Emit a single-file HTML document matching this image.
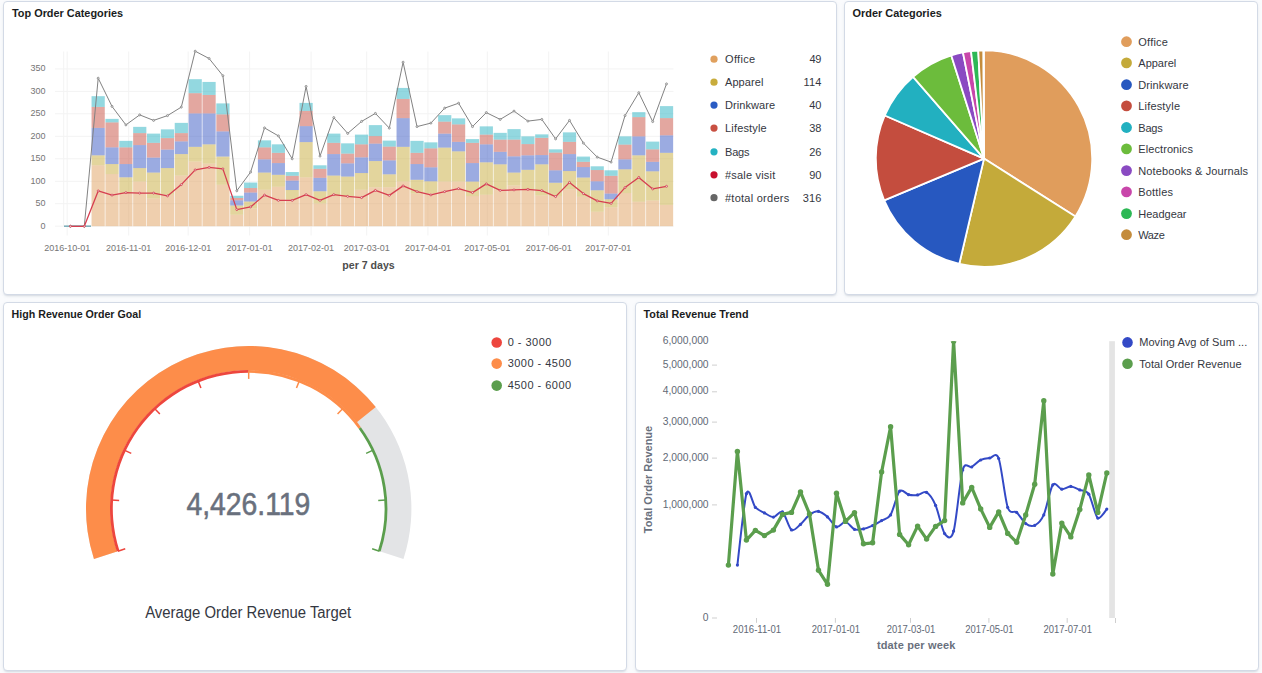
<!DOCTYPE html>
<html><head><meta charset="utf-8"><title>Dashboard</title>
<style>
html,body{margin:0;padding:0;}
body{width:1262px;height:673px;overflow:hidden;background:#FAFBFD;font-family:"Liberation Sans",sans-serif;position:relative;}
.p{position:absolute;box-sizing:border-box;background:#fff;border:1px solid #D3DAE6;border-radius:4px;box-shadow:0 2px 2px -1px rgba(152,162,179,.3),0 1px 5px -2px rgba(152,162,179,.3);}
svg{position:absolute;left:0;top:0;font-family:"Liberation Sans",sans-serif;}
</style></head><body>
<div class="p" style="left:3px;top:1px;width:834px;height:294px"></div>
<div class="p" style="left:844px;top:1px;width:414px;height:294px"></div>
<div class="p" style="left:3px;top:302px;width:624px;height:369px"></div>
<div class="p" style="left:635px;top:302px;width:624px;height:369px"></div>
<svg width="1262" height="673" viewBox="0 0 1262 673">
<line x1="55" x2="673.5" y1="226.2" y2="226.2" stroke="#f3f3f3" stroke-width="1"/>
<text x="45.5" y="228.7" text-anchor="end" font-size="9" fill="#757575">0</text>
<line x1="55" x2="673.5" y1="203.7" y2="203.7" stroke="#f3f3f3" stroke-width="1"/>
<text x="45.5" y="206.2" text-anchor="end" font-size="9" fill="#757575">50</text>
<line x1="55" x2="673.5" y1="181.3" y2="181.3" stroke="#f3f3f3" stroke-width="1"/>
<text x="45.5" y="183.8" text-anchor="end" font-size="9" fill="#757575">100</text>
<line x1="55" x2="673.5" y1="158.8" y2="158.8" stroke="#f3f3f3" stroke-width="1"/>
<text x="45.5" y="161.3" text-anchor="end" font-size="9" fill="#757575">150</text>
<line x1="55" x2="673.5" y1="136.3" y2="136.3" stroke="#f3f3f3" stroke-width="1"/>
<text x="45.5" y="138.8" text-anchor="end" font-size="9" fill="#757575">200</text>
<line x1="55" x2="673.5" y1="113.8" y2="113.8" stroke="#f3f3f3" stroke-width="1"/>
<text x="45.5" y="116.3" text-anchor="end" font-size="9" fill="#757575">250</text>
<line x1="55" x2="673.5" y1="91.4" y2="91.4" stroke="#f3f3f3" stroke-width="1"/>
<text x="45.5" y="93.9" text-anchor="end" font-size="9" fill="#757575">300</text>
<line x1="55" x2="673.5" y1="68.9" y2="68.9" stroke="#f3f3f3" stroke-width="1"/>
<text x="45.5" y="71.4" text-anchor="end" font-size="9" fill="#757575">350</text>
<line x1="63.7" x2="63.7" y1="51.5" y2="226.2" stroke="#f3f3f3" stroke-width="1"/>
<line x1="67.2" x2="67.2" y1="51.5" y2="235.5" stroke="#f3f3f3" stroke-width="1"/>
<text x="67.2" y="250.6" text-anchor="middle" font-size="9" fill="#757575">2016-10-01</text>
<line x1="128.7" x2="128.7" y1="51.5" y2="235.5" stroke="#f3f3f3" stroke-width="1"/>
<text x="128.7" y="250.6" text-anchor="middle" font-size="9" fill="#757575">2016-11-01</text>
<line x1="188.2" x2="188.2" y1="51.5" y2="235.5" stroke="#f3f3f3" stroke-width="1"/>
<text x="188.2" y="250.6" text-anchor="middle" font-size="9" fill="#757575">2016-12-01</text>
<line x1="249.6" x2="249.6" y1="51.5" y2="235.5" stroke="#f3f3f3" stroke-width="1"/>
<text x="249.6" y="250.6" text-anchor="middle" font-size="9" fill="#757575">2017-01-01</text>
<line x1="311.1" x2="311.1" y1="51.5" y2="235.5" stroke="#f3f3f3" stroke-width="1"/>
<text x="311.1" y="250.6" text-anchor="middle" font-size="9" fill="#757575">2017-02-01</text>
<line x1="366.7" x2="366.7" y1="51.5" y2="235.5" stroke="#f3f3f3" stroke-width="1"/>
<text x="366.7" y="250.6" text-anchor="middle" font-size="9" fill="#757575">2017-03-01</text>
<line x1="427.9" x2="427.9" y1="51.5" y2="235.5" stroke="#f3f3f3" stroke-width="1"/>
<text x="427.9" y="250.6" text-anchor="middle" font-size="9" fill="#757575">2017-04-01</text>
<line x1="487.3" x2="487.3" y1="51.5" y2="235.5" stroke="#f3f3f3" stroke-width="1"/>
<text x="487.3" y="250.6" text-anchor="middle" font-size="9" fill="#757575">2017-05-01</text>
<line x1="548.7" x2="548.7" y1="51.5" y2="235.5" stroke="#f3f3f3" stroke-width="1"/>
<text x="548.7" y="250.6" text-anchor="middle" font-size="9" fill="#757575">2017-06-01</text>
<line x1="608.3" x2="608.3" y1="51.5" y2="235.5" stroke="#f3f3f3" stroke-width="1"/>
<text x="608.3" y="250.6" text-anchor="middle" font-size="9" fill="#757575">2017-07-01</text>
<text x="368.5" y="269" text-anchor="middle" font-size="10.6" font-weight="bold" fill="#4d4d4d">per 7 days</text>
<rect x="64" y="225.39999999999998" width="27" height="1.6" fill="#7fb0bb"/>
<rect x="91.56" y="165.31" width="13.2" height="60.89" fill="#E0A05E" fill-opacity="0.5"/>
<rect x="91.56" y="155.33" width="13.2" height="9.99" fill="#C8AC3C" fill-opacity="0.5"/>
<rect x="91.56" y="127.87" width="13.2" height="27.46" fill="#3858C4" fill-opacity="0.5"/>
<rect x="91.56" y="106.90" width="13.2" height="20.97" fill="#C85042" fill-opacity="0.5"/>
<rect x="91.56" y="96.17" width="13.2" height="10.73" fill="#28B2C2" fill-opacity="0.5"/>
<rect x="105.42" y="174.05" width="13.2" height="52.15" fill="#E0A05E" fill-opacity="0.5"/>
<rect x="105.42" y="164.06" width="13.2" height="9.99" fill="#C8AC3C" fill-opacity="0.5"/>
<rect x="105.42" y="147.34" width="13.2" height="16.72" fill="#3858C4" fill-opacity="0.5"/>
<rect x="105.42" y="122.38" width="13.2" height="24.96" fill="#C85042" fill-opacity="0.5"/>
<rect x="105.42" y="118.88" width="13.2" height="3.49" fill="#28B2C2" fill-opacity="0.5"/>
<rect x="119.28" y="193.52" width="13.2" height="32.68" fill="#E0A05E" fill-opacity="0.5"/>
<rect x="119.28" y="177.29" width="13.2" height="16.23" fill="#C8AC3C" fill-opacity="0.5"/>
<rect x="119.28" y="164.06" width="13.2" height="13.23" fill="#3858C4" fill-opacity="0.5"/>
<rect x="119.28" y="147.34" width="13.2" height="16.72" fill="#C85042" fill-opacity="0.5"/>
<rect x="119.28" y="140.85" width="13.2" height="6.49" fill="#28B2C2" fill-opacity="0.5"/>
<rect x="133.15" y="181.54" width="13.2" height="44.66" fill="#E0A05E" fill-opacity="0.5"/>
<rect x="133.15" y="168.06" width="13.2" height="13.48" fill="#C8AC3C" fill-opacity="0.5"/>
<rect x="133.15" y="145.09" width="13.2" height="22.97" fill="#3858C4" fill-opacity="0.5"/>
<rect x="133.15" y="133.11" width="13.2" height="11.98" fill="#C85042" fill-opacity="0.5"/>
<rect x="133.15" y="126.87" width="13.2" height="6.24" fill="#28B2C2" fill-opacity="0.5"/>
<rect x="147.01" y="198.51" width="13.2" height="27.69" fill="#E0A05E" fill-opacity="0.5"/>
<rect x="147.01" y="172.55" width="13.2" height="25.96" fill="#C8AC3C" fill-opacity="0.5"/>
<rect x="147.01" y="157.57" width="13.2" height="14.98" fill="#3858C4" fill-opacity="0.5"/>
<rect x="147.01" y="142.85" width="13.2" height="14.73" fill="#C85042" fill-opacity="0.5"/>
<rect x="147.01" y="133.61" width="13.2" height="9.24" fill="#28B2C2" fill-opacity="0.5"/>
<rect x="160.87" y="194.77" width="13.2" height="31.43" fill="#E0A05E" fill-opacity="0.5"/>
<rect x="160.87" y="168.06" width="13.2" height="26.71" fill="#C8AC3C" fill-opacity="0.5"/>
<rect x="160.87" y="149.59" width="13.2" height="18.47" fill="#3858C4" fill-opacity="0.5"/>
<rect x="160.87" y="138.10" width="13.2" height="11.48" fill="#C85042" fill-opacity="0.5"/>
<rect x="160.87" y="129.37" width="13.2" height="8.74" fill="#28B2C2" fill-opacity="0.5"/>
<rect x="174.73" y="175.55" width="13.2" height="50.65" fill="#E0A05E" fill-opacity="0.5"/>
<rect x="174.73" y="154.08" width="13.2" height="21.47" fill="#C8AC3C" fill-opacity="0.5"/>
<rect x="174.73" y="141.35" width="13.2" height="12.73" fill="#3858C4" fill-opacity="0.5"/>
<rect x="174.73" y="133.11" width="13.2" height="8.24" fill="#C85042" fill-opacity="0.5"/>
<rect x="174.73" y="122.88" width="13.2" height="10.23" fill="#28B2C2" fill-opacity="0.5"/>
<rect x="188.60" y="161.57" width="13.2" height="64.63" fill="#E0A05E" fill-opacity="0.5"/>
<rect x="188.60" y="146.84" width="13.2" height="14.73" fill="#C8AC3C" fill-opacity="0.5"/>
<rect x="188.60" y="113.39" width="13.2" height="33.45" fill="#3858C4" fill-opacity="0.5"/>
<rect x="188.60" y="93.17" width="13.2" height="20.22" fill="#C85042" fill-opacity="0.5"/>
<rect x="188.60" y="79.19" width="13.2" height="13.98" fill="#28B2C2" fill-opacity="0.5"/>
<rect x="202.46" y="163.56" width="13.2" height="62.64" fill="#E0A05E" fill-opacity="0.5"/>
<rect x="202.46" y="144.34" width="13.2" height="19.22" fill="#C8AC3C" fill-opacity="0.5"/>
<rect x="202.46" y="113.39" width="13.2" height="30.95" fill="#3858C4" fill-opacity="0.5"/>
<rect x="202.46" y="94.92" width="13.2" height="18.47" fill="#C85042" fill-opacity="0.5"/>
<rect x="202.46" y="81.94" width="13.2" height="12.98" fill="#28B2C2" fill-opacity="0.5"/>
<rect x="216.32" y="184.78" width="13.2" height="41.42" fill="#E0A05E" fill-opacity="0.5"/>
<rect x="216.32" y="156.58" width="13.2" height="28.21" fill="#C8AC3C" fill-opacity="0.5"/>
<rect x="216.32" y="131.36" width="13.2" height="25.21" fill="#3858C4" fill-opacity="0.5"/>
<rect x="216.32" y="114.39" width="13.2" height="16.97" fill="#C85042" fill-opacity="0.5"/>
<rect x="216.32" y="103.40" width="13.2" height="10.98" fill="#28B2C2" fill-opacity="0.5"/>
<rect x="230.19" y="214.74" width="13.2" height="11.46" fill="#E0A05E" fill-opacity="0.5"/>
<rect x="230.19" y="205.50" width="13.2" height="9.24" fill="#C8AC3C" fill-opacity="0.5"/>
<rect x="230.19" y="200.26" width="13.2" height="5.24" fill="#3858C4" fill-opacity="0.5"/>
<rect x="230.19" y="198.01" width="13.2" height="2.25" fill="#C85042" fill-opacity="0.5"/>
<rect x="230.19" y="195.77" width="13.2" height="2.25" fill="#28B2C2" fill-opacity="0.5"/>
<rect x="244.05" y="208.50" width="13.2" height="17.70" fill="#E0A05E" fill-opacity="0.5"/>
<rect x="244.05" y="201.51" width="13.2" height="6.99" fill="#C8AC3C" fill-opacity="0.5"/>
<rect x="244.05" y="192.52" width="13.2" height="8.99" fill="#3858C4" fill-opacity="0.5"/>
<rect x="244.05" y="188.03" width="13.2" height="4.49" fill="#C85042" fill-opacity="0.5"/>
<rect x="244.05" y="182.54" width="13.2" height="5.49" fill="#28B2C2" fill-opacity="0.5"/>
<rect x="257.91" y="189.78" width="13.2" height="36.42" fill="#E0A05E" fill-opacity="0.5"/>
<rect x="257.91" y="172.55" width="13.2" height="17.22" fill="#C8AC3C" fill-opacity="0.5"/>
<rect x="257.91" y="159.32" width="13.2" height="13.23" fill="#3858C4" fill-opacity="0.5"/>
<rect x="257.91" y="147.34" width="13.2" height="11.98" fill="#C85042" fill-opacity="0.5"/>
<rect x="257.91" y="140.35" width="13.2" height="6.99" fill="#28B2C2" fill-opacity="0.5"/>
<rect x="271.77" y="186.78" width="13.2" height="39.42" fill="#E0A05E" fill-opacity="0.5"/>
<rect x="271.77" y="174.80" width="13.2" height="11.98" fill="#C8AC3C" fill-opacity="0.5"/>
<rect x="271.77" y="163.07" width="13.2" height="11.73" fill="#3858C4" fill-opacity="0.5"/>
<rect x="271.77" y="152.83" width="13.2" height="10.23" fill="#C85042" fill-opacity="0.5"/>
<rect x="271.77" y="144.34" width="13.2" height="8.49" fill="#28B2C2" fill-opacity="0.5"/>
<rect x="285.64" y="199.76" width="13.2" height="26.44" fill="#E0A05E" fill-opacity="0.5"/>
<rect x="285.64" y="190.02" width="13.2" height="9.74" fill="#C8AC3C" fill-opacity="0.5"/>
<rect x="285.64" y="180.54" width="13.2" height="9.49" fill="#3858C4" fill-opacity="0.5"/>
<rect x="285.64" y="175.80" width="13.2" height="4.74" fill="#C85042" fill-opacity="0.5"/>
<rect x="285.64" y="172.05" width="13.2" height="3.74" fill="#28B2C2" fill-opacity="0.5"/>
<rect x="299.50" y="177.29" width="13.2" height="48.91" fill="#E0A05E" fill-opacity="0.5"/>
<rect x="299.50" y="142.10" width="13.2" height="35.20" fill="#C8AC3C" fill-opacity="0.5"/>
<rect x="299.50" y="126.12" width="13.2" height="15.98" fill="#3858C4" fill-opacity="0.5"/>
<rect x="299.50" y="110.89" width="13.2" height="15.23" fill="#C85042" fill-opacity="0.5"/>
<rect x="299.50" y="102.91" width="13.2" height="7.99" fill="#28B2C2" fill-opacity="0.5"/>
<rect x="313.36" y="203.50" width="13.2" height="22.70" fill="#E0A05E" fill-opacity="0.5"/>
<rect x="313.36" y="191.27" width="13.2" height="12.23" fill="#C8AC3C" fill-opacity="0.5"/>
<rect x="313.36" y="177.79" width="13.2" height="13.48" fill="#3858C4" fill-opacity="0.5"/>
<rect x="313.36" y="168.81" width="13.2" height="8.99" fill="#C85042" fill-opacity="0.5"/>
<rect x="313.36" y="165.31" width="13.2" height="3.49" fill="#28B2C2" fill-opacity="0.5"/>
<rect x="327.23" y="196.02" width="13.2" height="30.18" fill="#E0A05E" fill-opacity="0.5"/>
<rect x="327.23" y="175.55" width="13.2" height="20.47" fill="#C8AC3C" fill-opacity="0.5"/>
<rect x="327.23" y="154.08" width="13.2" height="21.47" fill="#3858C4" fill-opacity="0.5"/>
<rect x="327.23" y="142.85" width="13.2" height="11.23" fill="#C85042" fill-opacity="0.5"/>
<rect x="327.23" y="133.61" width="13.2" height="9.24" fill="#28B2C2" fill-opacity="0.5"/>
<rect x="341.09" y="196.02" width="13.2" height="30.18" fill="#E0A05E" fill-opacity="0.5"/>
<rect x="341.09" y="176.55" width="13.2" height="19.47" fill="#C8AC3C" fill-opacity="0.5"/>
<rect x="341.09" y="163.32" width="13.2" height="13.23" fill="#3858C4" fill-opacity="0.5"/>
<rect x="341.09" y="153.58" width="13.2" height="9.74" fill="#C85042" fill-opacity="0.5"/>
<rect x="341.09" y="143.34" width="13.2" height="10.23" fill="#28B2C2" fill-opacity="0.5"/>
<rect x="354.95" y="189.78" width="13.2" height="36.42" fill="#E0A05E" fill-opacity="0.5"/>
<rect x="354.95" y="173.05" width="13.2" height="16.72" fill="#C8AC3C" fill-opacity="0.5"/>
<rect x="354.95" y="157.32" width="13.2" height="15.73" fill="#3858C4" fill-opacity="0.5"/>
<rect x="354.95" y="144.34" width="13.2" height="12.98" fill="#C85042" fill-opacity="0.5"/>
<rect x="354.95" y="134.61" width="13.2" height="9.74" fill="#28B2C2" fill-opacity="0.5"/>
<rect x="368.82" y="187.28" width="13.2" height="38.92" fill="#E0A05E" fill-opacity="0.5"/>
<rect x="368.82" y="161.07" width="13.2" height="26.21" fill="#C8AC3C" fill-opacity="0.5"/>
<rect x="368.82" y="143.59" width="13.2" height="17.47" fill="#3858C4" fill-opacity="0.5"/>
<rect x="368.82" y="136.11" width="13.2" height="7.49" fill="#C85042" fill-opacity="0.5"/>
<rect x="368.82" y="125.12" width="13.2" height="10.98" fill="#28B2C2" fill-opacity="0.5"/>
<rect x="382.68" y="187.28" width="13.2" height="38.92" fill="#E0A05E" fill-opacity="0.5"/>
<rect x="382.68" y="174.30" width="13.2" height="12.98" fill="#C8AC3C" fill-opacity="0.5"/>
<rect x="382.68" y="160.32" width="13.2" height="13.98" fill="#3858C4" fill-opacity="0.5"/>
<rect x="382.68" y="146.59" width="13.2" height="13.73" fill="#C85042" fill-opacity="0.5"/>
<rect x="382.68" y="140.60" width="13.2" height="5.99" fill="#28B2C2" fill-opacity="0.5"/>
<rect x="396.54" y="181.54" width="13.2" height="44.66" fill="#E0A05E" fill-opacity="0.5"/>
<rect x="396.54" y="146.84" width="13.2" height="34.70" fill="#C8AC3C" fill-opacity="0.5"/>
<rect x="396.54" y="118.13" width="13.2" height="28.71" fill="#3858C4" fill-opacity="0.5"/>
<rect x="396.54" y="98.91" width="13.2" height="19.22" fill="#C85042" fill-opacity="0.5"/>
<rect x="396.54" y="87.93" width="13.2" height="10.98" fill="#28B2C2" fill-opacity="0.5"/>
<rect x="410.40" y="193.52" width="13.2" height="32.68" fill="#E0A05E" fill-opacity="0.5"/>
<rect x="410.40" y="179.79" width="13.2" height="13.73" fill="#C8AC3C" fill-opacity="0.5"/>
<rect x="410.40" y="164.06" width="13.2" height="15.73" fill="#3858C4" fill-opacity="0.5"/>
<rect x="410.40" y="152.83" width="13.2" height="11.23" fill="#C85042" fill-opacity="0.5"/>
<rect x="410.40" y="140.85" width="13.2" height="11.98" fill="#28B2C2" fill-opacity="0.5"/>
<rect x="424.27" y="193.52" width="13.2" height="32.68" fill="#E0A05E" fill-opacity="0.5"/>
<rect x="424.27" y="181.29" width="13.2" height="12.23" fill="#C8AC3C" fill-opacity="0.5"/>
<rect x="424.27" y="167.31" width="13.2" height="13.98" fill="#3858C4" fill-opacity="0.5"/>
<rect x="424.27" y="148.34" width="13.2" height="18.97" fill="#C85042" fill-opacity="0.5"/>
<rect x="424.27" y="142.35" width="13.2" height="5.99" fill="#28B2C2" fill-opacity="0.5"/>
<rect x="438.13" y="181.54" width="13.2" height="44.66" fill="#E0A05E" fill-opacity="0.5"/>
<rect x="438.13" y="147.59" width="13.2" height="33.95" fill="#C8AC3C" fill-opacity="0.5"/>
<rect x="438.13" y="133.61" width="13.2" height="13.98" fill="#3858C4" fill-opacity="0.5"/>
<rect x="438.13" y="121.63" width="13.2" height="11.98" fill="#C85042" fill-opacity="0.5"/>
<rect x="438.13" y="115.14" width="13.2" height="6.49" fill="#28B2C2" fill-opacity="0.5"/>
<rect x="451.99" y="181.54" width="13.2" height="44.66" fill="#E0A05E" fill-opacity="0.5"/>
<rect x="451.99" y="151.33" width="13.2" height="30.20" fill="#C8AC3C" fill-opacity="0.5"/>
<rect x="451.99" y="141.85" width="13.2" height="9.49" fill="#3858C4" fill-opacity="0.5"/>
<rect x="451.99" y="124.37" width="13.2" height="17.47" fill="#C85042" fill-opacity="0.5"/>
<rect x="451.99" y="118.38" width="13.2" height="5.99" fill="#28B2C2" fill-opacity="0.5"/>
<rect x="465.86" y="196.02" width="13.2" height="30.18" fill="#E0A05E" fill-opacity="0.5"/>
<rect x="465.86" y="181.54" width="13.2" height="14.48" fill="#C8AC3C" fill-opacity="0.5"/>
<rect x="465.86" y="163.07" width="13.2" height="18.47" fill="#3858C4" fill-opacity="0.5"/>
<rect x="465.86" y="142.85" width="13.2" height="20.22" fill="#C85042" fill-opacity="0.5"/>
<rect x="465.86" y="139.10" width="13.2" height="3.74" fill="#28B2C2" fill-opacity="0.5"/>
<rect x="479.72" y="194.77" width="13.2" height="31.43" fill="#E0A05E" fill-opacity="0.5"/>
<rect x="479.72" y="162.32" width="13.2" height="32.45" fill="#C8AC3C" fill-opacity="0.5"/>
<rect x="479.72" y="144.34" width="13.2" height="17.97" fill="#3858C4" fill-opacity="0.5"/>
<rect x="479.72" y="134.61" width="13.2" height="9.74" fill="#C85042" fill-opacity="0.5"/>
<rect x="479.72" y="126.37" width="13.2" height="8.24" fill="#28B2C2" fill-opacity="0.5"/>
<rect x="493.58" y="189.28" width="13.2" height="36.92" fill="#E0A05E" fill-opacity="0.5"/>
<rect x="493.58" y="164.31" width="13.2" height="24.96" fill="#C8AC3C" fill-opacity="0.5"/>
<rect x="493.58" y="151.83" width="13.2" height="12.48" fill="#3858C4" fill-opacity="0.5"/>
<rect x="493.58" y="139.60" width="13.2" height="12.23" fill="#C85042" fill-opacity="0.5"/>
<rect x="493.58" y="132.86" width="13.2" height="6.74" fill="#28B2C2" fill-opacity="0.5"/>
<rect x="507.45" y="185.53" width="13.2" height="40.67" fill="#E0A05E" fill-opacity="0.5"/>
<rect x="507.45" y="172.55" width="13.2" height="12.98" fill="#C8AC3C" fill-opacity="0.5"/>
<rect x="507.45" y="156.33" width="13.2" height="16.23" fill="#3858C4" fill-opacity="0.5"/>
<rect x="507.45" y="139.60" width="13.2" height="16.72" fill="#C85042" fill-opacity="0.5"/>
<rect x="507.45" y="129.12" width="13.2" height="10.48" fill="#28B2C2" fill-opacity="0.5"/>
<rect x="521.31" y="189.28" width="13.2" height="36.92" fill="#E0A05E" fill-opacity="0.5"/>
<rect x="521.31" y="169.81" width="13.2" height="19.47" fill="#C8AC3C" fill-opacity="0.5"/>
<rect x="521.31" y="155.33" width="13.2" height="14.48" fill="#3858C4" fill-opacity="0.5"/>
<rect x="521.31" y="144.09" width="13.2" height="11.23" fill="#C85042" fill-opacity="0.5"/>
<rect x="521.31" y="136.36" width="13.2" height="7.74" fill="#28B2C2" fill-opacity="0.5"/>
<rect x="535.17" y="195.52" width="13.2" height="30.68" fill="#E0A05E" fill-opacity="0.5"/>
<rect x="535.17" y="164.31" width="13.2" height="31.20" fill="#C8AC3C" fill-opacity="0.5"/>
<rect x="535.17" y="155.08" width="13.2" height="9.24" fill="#3858C4" fill-opacity="0.5"/>
<rect x="535.17" y="137.85" width="13.2" height="17.22" fill="#C85042" fill-opacity="0.5"/>
<rect x="535.17" y="134.36" width="13.2" height="3.49" fill="#28B2C2" fill-opacity="0.5"/>
<rect x="549.03" y="196.02" width="13.2" height="30.18" fill="#E0A05E" fill-opacity="0.5"/>
<rect x="549.03" y="182.79" width="13.2" height="13.23" fill="#C8AC3C" fill-opacity="0.5"/>
<rect x="549.03" y="170.30" width="13.2" height="12.48" fill="#3858C4" fill-opacity="0.5"/>
<rect x="549.03" y="152.58" width="13.2" height="17.72" fill="#C85042" fill-opacity="0.5"/>
<rect x="549.03" y="149.34" width="13.2" height="3.25" fill="#28B2C2" fill-opacity="0.5"/>
<rect x="562.90" y="189.28" width="13.2" height="36.92" fill="#E0A05E" fill-opacity="0.5"/>
<rect x="562.90" y="171.05" width="13.2" height="18.22" fill="#C8AC3C" fill-opacity="0.5"/>
<rect x="562.90" y="154.08" width="13.2" height="16.97" fill="#3858C4" fill-opacity="0.5"/>
<rect x="562.90" y="141.85" width="13.2" height="12.23" fill="#C85042" fill-opacity="0.5"/>
<rect x="562.90" y="132.36" width="13.2" height="9.49" fill="#28B2C2" fill-opacity="0.5"/>
<rect x="576.76" y="196.76" width="13.2" height="29.44" fill="#E0A05E" fill-opacity="0.5"/>
<rect x="576.76" y="177.54" width="13.2" height="19.22" fill="#C8AC3C" fill-opacity="0.5"/>
<rect x="576.76" y="167.06" width="13.2" height="10.48" fill="#3858C4" fill-opacity="0.5"/>
<rect x="576.76" y="161.82" width="13.2" height="5.24" fill="#C85042" fill-opacity="0.5"/>
<rect x="576.76" y="156.58" width="13.2" height="5.24" fill="#28B2C2" fill-opacity="0.5"/>
<rect x="590.62" y="211.74" width="13.2" height="14.46" fill="#E0A05E" fill-opacity="0.5"/>
<rect x="590.62" y="190.27" width="13.2" height="21.47" fill="#C8AC3C" fill-opacity="0.5"/>
<rect x="590.62" y="181.29" width="13.2" height="8.99" fill="#3858C4" fill-opacity="0.5"/>
<rect x="590.62" y="170.05" width="13.2" height="11.23" fill="#C85042" fill-opacity="0.5"/>
<rect x="590.62" y="166.31" width="13.2" height="3.74" fill="#28B2C2" fill-opacity="0.5"/>
<rect x="604.49" y="207.25" width="13.2" height="18.95" fill="#E0A05E" fill-opacity="0.5"/>
<rect x="604.49" y="199.26" width="13.2" height="7.99" fill="#C8AC3C" fill-opacity="0.5"/>
<rect x="604.49" y="193.52" width="13.2" height="5.74" fill="#3858C4" fill-opacity="0.5"/>
<rect x="604.49" y="175.80" width="13.2" height="17.72" fill="#C85042" fill-opacity="0.5"/>
<rect x="604.49" y="170.30" width="13.2" height="5.49" fill="#28B2C2" fill-opacity="0.5"/>
<rect x="618.35" y="193.02" width="13.2" height="33.18" fill="#E0A05E" fill-opacity="0.5"/>
<rect x="618.35" y="169.31" width="13.2" height="23.71" fill="#C8AC3C" fill-opacity="0.5"/>
<rect x="618.35" y="159.32" width="13.2" height="9.99" fill="#3858C4" fill-opacity="0.5"/>
<rect x="618.35" y="144.59" width="13.2" height="14.73" fill="#C85042" fill-opacity="0.5"/>
<rect x="618.35" y="136.36" width="13.2" height="8.24" fill="#28B2C2" fill-opacity="0.5"/>
<rect x="632.21" y="201.76" width="13.2" height="24.44" fill="#E0A05E" fill-opacity="0.5"/>
<rect x="632.21" y="155.33" width="13.2" height="46.43" fill="#C8AC3C" fill-opacity="0.5"/>
<rect x="632.21" y="136.36" width="13.2" height="18.97" fill="#3858C4" fill-opacity="0.5"/>
<rect x="632.21" y="117.13" width="13.2" height="19.22" fill="#C85042" fill-opacity="0.5"/>
<rect x="632.21" y="112.14" width="13.2" height="4.99" fill="#28B2C2" fill-opacity="0.5"/>
<rect x="646.08" y="200.51" width="13.2" height="25.69" fill="#E0A05E" fill-opacity="0.5"/>
<rect x="646.08" y="171.30" width="13.2" height="29.21" fill="#C8AC3C" fill-opacity="0.5"/>
<rect x="646.08" y="161.82" width="13.2" height="9.49" fill="#3858C4" fill-opacity="0.5"/>
<rect x="646.08" y="149.34" width="13.2" height="12.48" fill="#C85042" fill-opacity="0.5"/>
<rect x="646.08" y="141.60" width="13.2" height="7.74" fill="#28B2C2" fill-opacity="0.5"/>
<rect x="659.94" y="204.90" width="13.2" height="21.30" fill="#E0A05E" fill-opacity="0.5"/>
<rect x="659.94" y="152.81" width="13.2" height="52.10" fill="#C8AC3C" fill-opacity="0.5"/>
<rect x="659.94" y="135.31" width="13.2" height="17.50" fill="#3858C4" fill-opacity="0.5"/>
<rect x="659.94" y="118.11" width="13.2" height="17.20" fill="#C85042" fill-opacity="0.5"/>
<rect x="659.94" y="106.10" width="13.2" height="12.01" fill="#28B2C2" fill-opacity="0.5"/>
<path d="M70.4,226.2 L84.3,226.2 L98.2,78.2 L112.0,106.4 L125.9,124.9 L139.7,114.9 L153.6,120.4 L167.5,115.6 L181.3,107.1 L195.2,51.2 L209.1,58.5 L222.9,75.7 L236.8,190.8 L250.6,172.1 L264.5,127.9 L278.4,135.9 L292.2,158.8 L306.1,86.4 L320.0,156.1 L333.8,117.6 L347.7,133.4 L361.6,121.4 L375.4,113.4 L389.3,128.1 L403.1,62.2 L417.0,126.6 L430.9,123.1 L444.7,108.1 L458.6,103.2 L472.5,126.6 L486.3,112.6 L500.2,119.4 L514.0,111.1 L527.9,121.1 L541.8,119.4 L555.6,138.9 L569.5,120.4 L583.4,143.1 L597.2,157.1 L611.1,162.1 L625.0,115.6 L638.8,92.7 L652.7,121.6 L666.5,83.9" fill="none" stroke="#828282" stroke-width="1.0" stroke-linejoin="round"/>
<circle cx="70.4" cy="226.2" r="1.0" fill="#e8e8e8" stroke="#828282" stroke-width="0.8"/>
<circle cx="84.3" cy="226.2" r="1.0" fill="#e8e8e8" stroke="#828282" stroke-width="0.8"/>
<circle cx="98.2" cy="78.2" r="1.0" fill="#e8e8e8" stroke="#828282" stroke-width="0.8"/>
<circle cx="112.0" cy="106.4" r="1.0" fill="#e8e8e8" stroke="#828282" stroke-width="0.8"/>
<circle cx="125.9" cy="124.9" r="1.0" fill="#e8e8e8" stroke="#828282" stroke-width="0.8"/>
<circle cx="139.7" cy="114.9" r="1.0" fill="#e8e8e8" stroke="#828282" stroke-width="0.8"/>
<circle cx="153.6" cy="120.4" r="1.0" fill="#e8e8e8" stroke="#828282" stroke-width="0.8"/>
<circle cx="167.5" cy="115.6" r="1.0" fill="#e8e8e8" stroke="#828282" stroke-width="0.8"/>
<circle cx="181.3" cy="107.1" r="1.0" fill="#e8e8e8" stroke="#828282" stroke-width="0.8"/>
<circle cx="195.2" cy="51.2" r="1.0" fill="#e8e8e8" stroke="#828282" stroke-width="0.8"/>
<circle cx="209.1" cy="58.5" r="1.0" fill="#e8e8e8" stroke="#828282" stroke-width="0.8"/>
<circle cx="222.9" cy="75.7" r="1.0" fill="#e8e8e8" stroke="#828282" stroke-width="0.8"/>
<circle cx="236.8" cy="190.8" r="1.0" fill="#e8e8e8" stroke="#828282" stroke-width="0.8"/>
<circle cx="250.6" cy="172.1" r="1.0" fill="#e8e8e8" stroke="#828282" stroke-width="0.8"/>
<circle cx="264.5" cy="127.9" r="1.0" fill="#e8e8e8" stroke="#828282" stroke-width="0.8"/>
<circle cx="278.4" cy="135.9" r="1.0" fill="#e8e8e8" stroke="#828282" stroke-width="0.8"/>
<circle cx="292.2" cy="158.8" r="1.0" fill="#e8e8e8" stroke="#828282" stroke-width="0.8"/>
<circle cx="306.1" cy="86.4" r="1.0" fill="#e8e8e8" stroke="#828282" stroke-width="0.8"/>
<circle cx="320.0" cy="156.1" r="1.0" fill="#e8e8e8" stroke="#828282" stroke-width="0.8"/>
<circle cx="333.8" cy="117.6" r="1.0" fill="#e8e8e8" stroke="#828282" stroke-width="0.8"/>
<circle cx="347.7" cy="133.4" r="1.0" fill="#e8e8e8" stroke="#828282" stroke-width="0.8"/>
<circle cx="361.6" cy="121.4" r="1.0" fill="#e8e8e8" stroke="#828282" stroke-width="0.8"/>
<circle cx="375.4" cy="113.4" r="1.0" fill="#e8e8e8" stroke="#828282" stroke-width="0.8"/>
<circle cx="389.3" cy="128.1" r="1.0" fill="#e8e8e8" stroke="#828282" stroke-width="0.8"/>
<circle cx="403.1" cy="62.2" r="1.0" fill="#e8e8e8" stroke="#828282" stroke-width="0.8"/>
<circle cx="417.0" cy="126.6" r="1.0" fill="#e8e8e8" stroke="#828282" stroke-width="0.8"/>
<circle cx="430.9" cy="123.1" r="1.0" fill="#e8e8e8" stroke="#828282" stroke-width="0.8"/>
<circle cx="444.7" cy="108.1" r="1.0" fill="#e8e8e8" stroke="#828282" stroke-width="0.8"/>
<circle cx="458.6" cy="103.2" r="1.0" fill="#e8e8e8" stroke="#828282" stroke-width="0.8"/>
<circle cx="472.5" cy="126.6" r="1.0" fill="#e8e8e8" stroke="#828282" stroke-width="0.8"/>
<circle cx="486.3" cy="112.6" r="1.0" fill="#e8e8e8" stroke="#828282" stroke-width="0.8"/>
<circle cx="500.2" cy="119.4" r="1.0" fill="#e8e8e8" stroke="#828282" stroke-width="0.8"/>
<circle cx="514.0" cy="111.1" r="1.0" fill="#e8e8e8" stroke="#828282" stroke-width="0.8"/>
<circle cx="527.9" cy="121.1" r="1.0" fill="#e8e8e8" stroke="#828282" stroke-width="0.8"/>
<circle cx="541.8" cy="119.4" r="1.0" fill="#e8e8e8" stroke="#828282" stroke-width="0.8"/>
<circle cx="555.6" cy="138.9" r="1.0" fill="#e8e8e8" stroke="#828282" stroke-width="0.8"/>
<circle cx="569.5" cy="120.4" r="1.0" fill="#e8e8e8" stroke="#828282" stroke-width="0.8"/>
<circle cx="583.4" cy="143.1" r="1.0" fill="#e8e8e8" stroke="#828282" stroke-width="0.8"/>
<circle cx="597.2" cy="157.1" r="1.0" fill="#e8e8e8" stroke="#828282" stroke-width="0.8"/>
<circle cx="611.1" cy="162.1" r="1.0" fill="#e8e8e8" stroke="#828282" stroke-width="0.8"/>
<circle cx="625.0" cy="115.6" r="1.0" fill="#e8e8e8" stroke="#828282" stroke-width="0.8"/>
<circle cx="638.8" cy="92.7" r="1.0" fill="#e8e8e8" stroke="#828282" stroke-width="0.8"/>
<circle cx="652.7" cy="121.6" r="1.0" fill="#e8e8e8" stroke="#828282" stroke-width="0.8"/>
<circle cx="666.5" cy="83.9" r="1.0" fill="#e8e8e8" stroke="#828282" stroke-width="0.8"/>
<path d="M70.4,226.3 L84.3,226.3 L98.2,190.9 L112.0,195.1 L125.9,192.6 L139.7,193.1 L153.6,193.1 L167.5,195.9 L181.3,184.6 L195.2,169.9 L209.1,167.4 L222.9,168.9 L236.8,209.6 L250.6,206.9 L264.5,195.1 L278.4,200.4 L292.2,200.4 L306.1,194.6 L320.0,200.4 L333.8,194.6 L347.7,196.4 L361.6,197.6 L375.4,190.4 L389.3,195.4 L403.1,185.9 L417.0,191.6 L430.9,194.9 L444.7,191.6 L458.6,188.6 L472.5,192.6 L486.3,183.9 L500.2,190.4 L514.0,189.9 L527.9,189.4 L541.8,190.6 L555.6,196.6 L569.5,182.4 L583.4,193.6 L597.2,200.9 L611.1,203.4 L625.0,187.6 L638.8,177.4 L652.7,188.9 L666.5,186.3" fill="none" stroke="#D63E50" stroke-width="1.3" stroke-linejoin="round"/>
<circle cx="70.4" cy="226.3" r="1.0" fill="#e8e8e8" stroke="#D63E50" stroke-width="0.8"/>
<circle cx="84.3" cy="226.3" r="1.0" fill="#e8e8e8" stroke="#D63E50" stroke-width="0.8"/>
<circle cx="98.2" cy="190.9" r="1.0" fill="#e8e8e8" stroke="#D63E50" stroke-width="0.8"/>
<circle cx="112.0" cy="195.1" r="1.0" fill="#e8e8e8" stroke="#D63E50" stroke-width="0.8"/>
<circle cx="125.9" cy="192.6" r="1.0" fill="#e8e8e8" stroke="#D63E50" stroke-width="0.8"/>
<circle cx="139.7" cy="193.1" r="1.0" fill="#e8e8e8" stroke="#D63E50" stroke-width="0.8"/>
<circle cx="153.6" cy="193.1" r="1.0" fill="#e8e8e8" stroke="#D63E50" stroke-width="0.8"/>
<circle cx="167.5" cy="195.9" r="1.0" fill="#e8e8e8" stroke="#D63E50" stroke-width="0.8"/>
<circle cx="181.3" cy="184.6" r="1.0" fill="#e8e8e8" stroke="#D63E50" stroke-width="0.8"/>
<circle cx="195.2" cy="169.9" r="1.0" fill="#e8e8e8" stroke="#D63E50" stroke-width="0.8"/>
<circle cx="209.1" cy="167.4" r="1.0" fill="#e8e8e8" stroke="#D63E50" stroke-width="0.8"/>
<circle cx="222.9" cy="168.9" r="1.0" fill="#e8e8e8" stroke="#D63E50" stroke-width="0.8"/>
<circle cx="236.8" cy="209.6" r="1.0" fill="#e8e8e8" stroke="#D63E50" stroke-width="0.8"/>
<circle cx="250.6" cy="206.9" r="1.0" fill="#e8e8e8" stroke="#D63E50" stroke-width="0.8"/>
<circle cx="264.5" cy="195.1" r="1.0" fill="#e8e8e8" stroke="#D63E50" stroke-width="0.8"/>
<circle cx="278.4" cy="200.4" r="1.0" fill="#e8e8e8" stroke="#D63E50" stroke-width="0.8"/>
<circle cx="292.2" cy="200.4" r="1.0" fill="#e8e8e8" stroke="#D63E50" stroke-width="0.8"/>
<circle cx="306.1" cy="194.6" r="1.0" fill="#e8e8e8" stroke="#D63E50" stroke-width="0.8"/>
<circle cx="320.0" cy="200.4" r="1.0" fill="#e8e8e8" stroke="#D63E50" stroke-width="0.8"/>
<circle cx="333.8" cy="194.6" r="1.0" fill="#e8e8e8" stroke="#D63E50" stroke-width="0.8"/>
<circle cx="347.7" cy="196.4" r="1.0" fill="#e8e8e8" stroke="#D63E50" stroke-width="0.8"/>
<circle cx="361.6" cy="197.6" r="1.0" fill="#e8e8e8" stroke="#D63E50" stroke-width="0.8"/>
<circle cx="375.4" cy="190.4" r="1.0" fill="#e8e8e8" stroke="#D63E50" stroke-width="0.8"/>
<circle cx="389.3" cy="195.4" r="1.0" fill="#e8e8e8" stroke="#D63E50" stroke-width="0.8"/>
<circle cx="403.1" cy="185.9" r="1.0" fill="#e8e8e8" stroke="#D63E50" stroke-width="0.8"/>
<circle cx="417.0" cy="191.6" r="1.0" fill="#e8e8e8" stroke="#D63E50" stroke-width="0.8"/>
<circle cx="430.9" cy="194.9" r="1.0" fill="#e8e8e8" stroke="#D63E50" stroke-width="0.8"/>
<circle cx="444.7" cy="191.6" r="1.0" fill="#e8e8e8" stroke="#D63E50" stroke-width="0.8"/>
<circle cx="458.6" cy="188.6" r="1.0" fill="#e8e8e8" stroke="#D63E50" stroke-width="0.8"/>
<circle cx="472.5" cy="192.6" r="1.0" fill="#e8e8e8" stroke="#D63E50" stroke-width="0.8"/>
<circle cx="486.3" cy="183.9" r="1.0" fill="#e8e8e8" stroke="#D63E50" stroke-width="0.8"/>
<circle cx="500.2" cy="190.4" r="1.0" fill="#e8e8e8" stroke="#D63E50" stroke-width="0.8"/>
<circle cx="514.0" cy="189.9" r="1.0" fill="#e8e8e8" stroke="#D63E50" stroke-width="0.8"/>
<circle cx="527.9" cy="189.4" r="1.0" fill="#e8e8e8" stroke="#D63E50" stroke-width="0.8"/>
<circle cx="541.8" cy="190.6" r="1.0" fill="#e8e8e8" stroke="#D63E50" stroke-width="0.8"/>
<circle cx="555.6" cy="196.6" r="1.0" fill="#e8e8e8" stroke="#D63E50" stroke-width="0.8"/>
<circle cx="569.5" cy="182.4" r="1.0" fill="#e8e8e8" stroke="#D63E50" stroke-width="0.8"/>
<circle cx="583.4" cy="193.6" r="1.0" fill="#e8e8e8" stroke="#D63E50" stroke-width="0.8"/>
<circle cx="597.2" cy="200.9" r="1.0" fill="#e8e8e8" stroke="#D63E50" stroke-width="0.8"/>
<circle cx="611.1" cy="203.4" r="1.0" fill="#e8e8e8" stroke="#D63E50" stroke-width="0.8"/>
<circle cx="625.0" cy="187.6" r="1.0" fill="#e8e8e8" stroke="#D63E50" stroke-width="0.8"/>
<circle cx="638.8" cy="177.4" r="1.0" fill="#e8e8e8" stroke="#D63E50" stroke-width="0.8"/>
<circle cx="652.7" cy="188.9" r="1.0" fill="#e8e8e8" stroke="#D63E50" stroke-width="0.8"/>
<circle cx="666.5" cy="186.3" r="1.0" fill="#e8e8e8" stroke="#D63E50" stroke-width="0.8"/>
<circle cx="714" cy="59.2" r="3.6" fill="#E0A05E"/>
<text x="725" y="63.2" font-size="11" fill="#343741" textLength="30.2" lengthAdjust="spacing">Office</text>
<text x="809.4" y="63.2" font-size="11" fill="#343741" textLength="12" lengthAdjust="spacing">49</text>
<circle cx="714" cy="82.2" r="3.6" fill="#C8AC3C"/>
<text x="725" y="86.2" font-size="11" fill="#343741" textLength="38.4" lengthAdjust="spacing">Apparel</text>
<text x="803.4" y="86.2" font-size="11" fill="#343741" textLength="18" lengthAdjust="spacing">114</text>
<circle cx="714" cy="105.1" r="3.6" fill="#2A5CC4"/>
<text x="725" y="109.1" font-size="11" fill="#343741" textLength="50.2" lengthAdjust="spacing">Drinkware</text>
<text x="809.1999999999999" y="109.1" font-size="11" fill="#343741" textLength="12.2" lengthAdjust="spacing">40</text>
<circle cx="714" cy="128.1" r="3.6" fill="#C85042"/>
<text x="725" y="132.1" font-size="11" fill="#343741" textLength="41.7" lengthAdjust="spacing">Lifestyle</text>
<text x="809.1999999999999" y="132.1" font-size="11" fill="#343741" textLength="12.2" lengthAdjust="spacing">38</text>
<circle cx="714" cy="151.8" r="3.6" fill="#24B2C2"/>
<text x="725" y="155.8" font-size="11" fill="#343741" textLength="24.5" lengthAdjust="spacing">Bags</text>
<text x="809.1999999999999" y="155.8" font-size="11" fill="#343741" textLength="12.2" lengthAdjust="spacing">26</text>
<circle cx="714" cy="174.8" r="3.6" fill="#C8102E"/>
<text x="725" y="178.8" font-size="11" fill="#343741" textLength="50.2" lengthAdjust="spacing">#sale visit</text>
<text x="809.1999999999999" y="178.8" font-size="11" fill="#343741" textLength="12.2" lengthAdjust="spacing">90</text>
<circle cx="714" cy="197.7" r="3.6" fill="#666666"/>
<text x="725" y="201.7" font-size="11" fill="#343741" textLength="64.2" lengthAdjust="spacing">#total orders</text>
<text x="802.6999999999999" y="201.7" font-size="11" fill="#343741" textLength="18.7" lengthAdjust="spacing">316</text>
<path d="M984.0,158.6 L984.00,50.40 A108.2,108.2 0 0 1 1075.46,216.42 Z" fill="#E09D5C" stroke="#fff" stroke-width="1.8" stroke-linejoin="round"/>
<path d="M984.0,158.6 L1075.46,216.42 A108.2,108.2 0 0 1 959.29,263.94 Z" fill="#C4AA3A" stroke="#fff" stroke-width="1.8" stroke-linejoin="round"/>
<path d="M984.0,158.6 L959.29,263.94 A108.2,108.2 0 0 1 884.18,200.36 Z" fill="#2758C0" stroke="#fff" stroke-width="1.8" stroke-linejoin="round"/>
<path d="M984.0,158.6 L884.18,200.36 A108.2,108.2 0 0 1 884.77,115.46 Z" fill="#C44D3E" stroke="#fff" stroke-width="1.8" stroke-linejoin="round"/>
<path d="M984.0,158.6 L884.77,115.46 A108.2,108.2 0 0 1 913.09,76.88 Z" fill="#22B0C0" stroke="#fff" stroke-width="1.8" stroke-linejoin="round"/>
<path d="M984.0,158.6 L913.09,76.88 A108.2,108.2 0 0 1 951.28,55.46 Z" fill="#6CBC3C" stroke="#fff" stroke-width="1.8" stroke-linejoin="round"/>
<path d="M984.0,158.6 L951.28,55.46 A108.2,108.2 0 0 1 962.98,52.46 Z" fill="#8A4AC2" stroke="#fff" stroke-width="1.8" stroke-linejoin="round"/>
<path d="M984.0,158.6 L962.98,52.46 A108.2,108.2 0 0 1 971.00,51.18 Z" fill="#C846AA" stroke="#fff" stroke-width="1.8" stroke-linejoin="round"/>
<path d="M984.0,158.6 L971.00,51.18 A108.2,108.2 0 0 1 978.24,50.55 Z" fill="#2DB855" stroke="#fff" stroke-width="1.8" stroke-linejoin="round"/>
<path d="M984.0,158.6 L978.24,50.55 A108.2,108.2 0 0 1 983.24,50.40 Z" fill="#C48C3C" stroke="#fff" stroke-width="1.8" stroke-linejoin="round"/>
<circle cx="1126.5" cy="41.7" r="5.4" fill="#E09D5C"/>
<text x="1138.3" y="45.8" font-size="11" fill="#343741" textLength="29.6" lengthAdjust="spacing">Office</text>
<circle cx="1126.5" cy="62.9" r="5.4" fill="#C4AA3A"/>
<text x="1138.3" y="67.0" font-size="11" fill="#343741" textLength="37.9" lengthAdjust="spacing">Apparel</text>
<circle cx="1126.5" cy="84.7" r="5.4" fill="#2758C0"/>
<text x="1138.3" y="88.8" font-size="11" fill="#343741" textLength="50.2" lengthAdjust="spacing">Drinkware</text>
<circle cx="1126.5" cy="105.9" r="5.4" fill="#C44D3E"/>
<text x="1138.3" y="110.0" font-size="11" fill="#343741" textLength="41.7" lengthAdjust="spacing">Lifestyle</text>
<circle cx="1126.5" cy="127.5" r="5.4" fill="#22B0C0"/>
<text x="1138.3" y="131.6" font-size="11" fill="#343741" textLength="24.4" lengthAdjust="spacing">Bags</text>
<circle cx="1126.5" cy="148.9" r="5.4" fill="#6CBC3C"/>
<text x="1138.3" y="153.0" font-size="11" fill="#343741" textLength="54.6" lengthAdjust="spacing">Electronics</text>
<circle cx="1126.5" cy="170.6" r="5.4" fill="#8A4AC2"/>
<text x="1138.3" y="174.7" font-size="11" fill="#343741" textLength="109.8" lengthAdjust="spacing">Notebooks &amp; Journals</text>
<circle cx="1126.5" cy="191.9" r="5.4" fill="#C846AA"/>
<text x="1138.3" y="196.0" font-size="11" fill="#343741" textLength="34.7" lengthAdjust="spacing">Bottles</text>
<circle cx="1126.5" cy="213.6" r="5.4" fill="#2DB855"/>
<text x="1138.3" y="217.7" font-size="11" fill="#343741" textLength="48.2" lengthAdjust="spacing">Headgear</text>
<circle cx="1126.5" cy="234.7" r="5.4" fill="#C48C3C"/>
<text x="1138.3" y="238.8" font-size="11" fill="#343741" textLength="26.5" lengthAdjust="spacing">Waze</text>
<path d="M93.96,558.98 A162.7,162.7 0 1 1 403.44,558.98 L380.33,551.47 A138.4,138.4 0 1 0 117.07,551.47 Z" fill="#E3E4E6"/>
<path d="M93.96,558.98 A162.7,162.7 0 0 1 375.75,407.07 L356.78,422.25 A138.4,138.4 0 0 0 117.07,551.47 Z" fill="#FD8D4A"/>
<path d="M116.79,551.56 A138.7,138.7 0 0 1 248.70,370.00 L248.70,372.80 A135.9,135.9 0 0 0 119.45,550.70 Z" fill="#ED463E"/>
<path d="M248.70,370.00 A138.7,138.7 0 0 1 360.91,427.17 L358.65,428.82 A135.9,135.9 0 0 0 248.70,372.80 Z" fill="#FD8D4A"/>
<path d="M360.91,427.17 A138.7,138.7 0 0 1 380.61,551.56 L377.95,550.70 A135.9,135.9 0 0 0 358.65,428.82 Z" fill="#5B9E4D"/>
<line x1="117.93" y1="551.19" x2="125.25" y2="548.81" stroke="#ED463E" stroke-width="1.5"/>
<line x1="111.47" y1="500.07" x2="119.16" y2="500.55" stroke="#ED463E" stroke-width="1.5"/>
<line x1="124.29" y1="450.16" x2="131.25" y2="453.43" stroke="#ED463E" stroke-width="1.5"/>
<line x1="154.57" y1="408.47" x2="159.85" y2="414.08" stroke="#ED463E" stroke-width="1.5"/>
<line x1="198.08" y1="380.86" x2="200.92" y2="388.02" stroke="#ED463E" stroke-width="1.5"/>
<line x1="248.70" y1="371.20" x2="248.70" y2="378.90" stroke="#FD8D4A" stroke-width="1.5"/>
<line x1="299.32" y1="380.86" x2="296.48" y2="388.02" stroke="#FD8D4A" stroke-width="1.5"/>
<line x1="342.83" y1="408.47" x2="337.55" y2="414.08" stroke="#FD8D4A" stroke-width="1.5"/>
<line x1="373.11" y1="450.16" x2="366.15" y2="453.43" stroke="#5B9E4D" stroke-width="1.5"/>
<line x1="385.93" y1="500.07" x2="378.24" y2="500.55" stroke="#5B9E4D" stroke-width="1.5"/>
<line x1="379.47" y1="551.19" x2="372.15" y2="548.81" stroke="#5B9E4D" stroke-width="1.5"/>
<text x="186.4" y="514.8" font-size="31" fill="#69707D" stroke="#69707D" stroke-width="0.55" textLength="124" lengthAdjust="spacingAndGlyphs">4,426.119</text>
<text x="145.2" y="618" font-size="15.6" fill="#343741" textLength="206" lengthAdjust="spacingAndGlyphs">Average Order Revenue Target</text>
<circle cx="496.7" cy="342.5" r="5.3" fill="#ED463E"/>
<text x="507.7" y="346.3" font-size="11" fill="#343741" textLength="43.7" lengthAdjust="spacing">0 - 3000</text>
<circle cx="496.7" cy="363.6" r="5.3" fill="#FD8D4A"/>
<text x="507.7" y="367.4" font-size="11" fill="#343741" textLength="63.4" lengthAdjust="spacing">3000 - 4500</text>
<circle cx="496.7" cy="385.6" r="5.3" fill="#5B9E4D"/>
<text x="507.7" y="389.4" font-size="11" fill="#343741" textLength="63.4" lengthAdjust="spacing">4500 - 6000</text>
<text x="708.6" y="343.6" text-anchor="end" font-size="10.3" fill="#626976">6,000,000</text>
<text x="708.6" y="367.7" text-anchor="end" font-size="10.3" fill="#626976">5,000,000</text>
<line x1="712" x2="717" y1="365.1" y2="365.1" stroke="#cfcfcf" stroke-width="1"/>
<text x="708.6" y="394.4" text-anchor="end" font-size="10.3" fill="#626976">4,000,000</text>
<line x1="712" x2="717" y1="391.8" y2="391.8" stroke="#cfcfcf" stroke-width="1"/>
<text x="708.6" y="424.7" text-anchor="end" font-size="10.3" fill="#626976">3,000,000</text>
<line x1="712" x2="717" y1="422.1" y2="422.1" stroke="#cfcfcf" stroke-width="1"/>
<text x="708.6" y="460.7" text-anchor="end" font-size="10.3" fill="#626976">2,000,000</text>
<line x1="712" x2="717" y1="458.1" y2="458.1" stroke="#cfcfcf" stroke-width="1"/>
<text x="708.6" y="507.5" text-anchor="end" font-size="10.3" fill="#626976">1,000,000</text>
<line x1="712" x2="717" y1="504.9" y2="504.9" stroke="#cfcfcf" stroke-width="1"/>
<text x="708.6" y="620.6" text-anchor="end" font-size="10.3" fill="#626976">0</text>
<line x1="712" x2="717" y1="618.0" y2="618.0" stroke="#cfcfcf" stroke-width="1"/>
<text transform="translate(651.6,479.5) rotate(-90)" text-anchor="middle" font-size="11" font-weight="bold" fill="#69707D">Total Order Revenue</text>
<text x="732.8" y="633" font-size="10.2" fill="#626976" textLength="48.4" lengthAdjust="spacingAndGlyphs">2016-11-01</text>
<line x1="756.5" x2="756.5" y1="618" y2="622.8" stroke="#cfcfcf" stroke-width="1"/>
<text x="811.7" y="633" font-size="10.2" fill="#626976" textLength="48.4" lengthAdjust="spacingAndGlyphs">2017-01-01</text>
<line x1="835.4000000000001" x2="835.4000000000001" y1="618" y2="622.8" stroke="#cfcfcf" stroke-width="1"/>
<text x="886.8" y="633" font-size="10.2" fill="#626976" textLength="48.4" lengthAdjust="spacingAndGlyphs">2017-03-01</text>
<line x1="910.5" x2="910.5" y1="618" y2="622.8" stroke="#cfcfcf" stroke-width="1"/>
<text x="965.2" y="633" font-size="10.2" fill="#626976" textLength="48.4" lengthAdjust="spacingAndGlyphs">2017-05-01</text>
<line x1="988.9000000000001" x2="988.9000000000001" y1="618" y2="622.8" stroke="#cfcfcf" stroke-width="1"/>
<text x="1043.5" y="633" font-size="10.2" fill="#626976" textLength="48.4" lengthAdjust="spacingAndGlyphs">2017-07-01</text>
<line x1="1067.2" x2="1067.2" y1="618" y2="622.8" stroke="#cfcfcf" stroke-width="1"/>
<text x="876.9" y="649.2" font-size="11" font-weight="bold" fill="#69707D" textLength="78.4" lengthAdjust="spacing">tdate per week</text>
<rect x="1109.2" y="341.2" width="5.7" height="276.8" fill="#e4e4e4"/>
<line x1="1115.5" x2="1115.5" y1="618" y2="623" stroke="#cfcfcf" stroke-width="1"/>
<clipPath id="lc"><rect x="720" y="341.2" width="395" height="280"/></clipPath>
<g clip-path="url(#lc)">
<path d="M737.41,565.06 Q744.62,499.44 746.42,493.67 C749.12,485.02 752.73,504.52 755.43,507.40 C758.13,510.28 761.74,511.43 764.44,512.89 C767.14,514.35 770.75,517.28 773.45,517.13 C776.15,516.98 779.76,509.98 782.46,511.89 C785.16,513.80 788.77,527.99 791.47,529.87 C794.17,531.74 797.78,526.62 800.48,524.37 C803.18,522.13 806.79,516.83 809.49,514.89 C812.19,512.94 815.80,511.09 818.50,511.39 C821.20,511.69 824.81,514.56 827.51,516.88 C830.21,519.21 833.82,526.12 836.52,526.87 C839.22,527.62 842.83,521.50 845.53,521.88 C848.23,522.25 851.84,528.32 854.54,529.37 C857.24,530.41 860.85,529.43 863.55,528.87 C866.25,528.31 869.86,526.86 872.56,525.62 C875.26,524.39 878.87,522.24 881.57,520.63 C884.27,519.02 887.88,519.31 890.58,514.89 C893.28,510.47 896.89,494.21 899.59,491.17 C902.29,488.14 905.90,494.11 908.60,494.67 C911.30,495.23 914.91,495.25 917.61,494.92 C920.31,494.58 923.92,490.85 926.62,492.42 C929.32,493.99 932.93,499.22 935.63,505.40 C938.33,511.58 941.94,529.75 944.64,533.61 C947.34,537.47 950.95,540.66 953.65,531.11 C956.35,521.57 959.96,479.58 962.66,469.96 C965.36,460.33 968.97,468.46 971.67,466.96 C974.37,465.46 977.98,461.32 980.68,459.97 C983.38,458.62 986.99,458.20 989.69,457.97 C992.39,457.75 996.00,451.06 998.70,458.47 C1001.40,465.89 1005.01,499.31 1007.71,507.40 C1010.41,515.49 1014.02,509.96 1016.72,512.39 C1019.42,514.83 1023.03,521.68 1025.73,523.62 C1028.43,525.57 1032.04,526.68 1034.74,525.37 C1037.44,524.06 1041.05,520.95 1043.75,514.89 C1046.45,508.82 1050.06,488.79 1052.76,484.93 C1055.46,481.08 1059.07,488.95 1061.77,489.18 C1064.47,489.40 1068.08,486.32 1070.78,486.43 C1073.48,486.54 1077.09,488.76 1079.79,489.93 C1082.49,491.09 1086.10,489.94 1088.80,494.17 C1091.50,498.40 1095.11,515.89 1097.81,518.13 Q1099.61,519.63 1106.82,509.15" fill="none" stroke="#3349C6" stroke-width="2" stroke-linejoin="round"/>
<circle cx="737.4" cy="565.1" r="1.6" fill="#3349C6"/>
<circle cx="746.4" cy="493.7" r="1.6" fill="#3349C6"/>
<circle cx="755.4" cy="507.4" r="1.6" fill="#3349C6"/>
<circle cx="764.4" cy="512.9" r="1.6" fill="#3349C6"/>
<circle cx="773.4" cy="517.1" r="1.6" fill="#3349C6"/>
<circle cx="782.5" cy="511.9" r="1.6" fill="#3349C6"/>
<circle cx="791.5" cy="529.9" r="1.6" fill="#3349C6"/>
<circle cx="800.5" cy="524.4" r="1.6" fill="#3349C6"/>
<circle cx="809.5" cy="514.9" r="1.6" fill="#3349C6"/>
<circle cx="818.5" cy="511.4" r="1.6" fill="#3349C6"/>
<circle cx="827.5" cy="516.9" r="1.6" fill="#3349C6"/>
<circle cx="836.5" cy="526.9" r="1.6" fill="#3349C6"/>
<circle cx="845.5" cy="521.9" r="1.6" fill="#3349C6"/>
<circle cx="854.5" cy="529.4" r="1.6" fill="#3349C6"/>
<circle cx="863.5" cy="528.9" r="1.6" fill="#3349C6"/>
<circle cx="872.6" cy="525.6" r="1.6" fill="#3349C6"/>
<circle cx="881.6" cy="520.6" r="1.6" fill="#3349C6"/>
<circle cx="890.6" cy="514.9" r="1.6" fill="#3349C6"/>
<circle cx="899.6" cy="491.2" r="1.6" fill="#3349C6"/>
<circle cx="908.6" cy="494.7" r="1.6" fill="#3349C6"/>
<circle cx="917.6" cy="494.9" r="1.6" fill="#3349C6"/>
<circle cx="926.6" cy="492.4" r="1.6" fill="#3349C6"/>
<circle cx="935.6" cy="505.4" r="1.6" fill="#3349C6"/>
<circle cx="944.6" cy="533.6" r="1.6" fill="#3349C6"/>
<circle cx="953.6" cy="531.1" r="1.6" fill="#3349C6"/>
<circle cx="962.7" cy="470.0" r="1.6" fill="#3349C6"/>
<circle cx="971.7" cy="467.0" r="1.6" fill="#3349C6"/>
<circle cx="980.7" cy="460.0" r="1.6" fill="#3349C6"/>
<circle cx="989.7" cy="458.0" r="1.6" fill="#3349C6"/>
<circle cx="998.7" cy="458.5" r="1.6" fill="#3349C6"/>
<circle cx="1007.7" cy="507.4" r="1.6" fill="#3349C6"/>
<circle cx="1016.7" cy="512.4" r="1.6" fill="#3349C6"/>
<circle cx="1025.7" cy="523.6" r="1.6" fill="#3349C6"/>
<circle cx="1034.7" cy="525.4" r="1.6" fill="#3349C6"/>
<circle cx="1043.8" cy="514.9" r="1.6" fill="#3349C6"/>
<circle cx="1052.8" cy="484.9" r="1.6" fill="#3349C6"/>
<circle cx="1061.8" cy="489.2" r="1.6" fill="#3349C6"/>
<circle cx="1070.8" cy="486.4" r="1.6" fill="#3349C6"/>
<circle cx="1079.8" cy="489.9" r="1.6" fill="#3349C6"/>
<circle cx="1088.8" cy="494.2" r="1.6" fill="#3349C6"/>
<circle cx="1097.8" cy="518.1" r="1.6" fill="#3349C6"/>
<circle cx="1106.8" cy="509.1" r="1.6" fill="#3349C6"/>
<path d="M728.4,565.1 L737.4,451.5 L746.4,540.1 L755.4,530.4 L764.4,535.6 L773.4,530.1 L782.5,514.4 L791.5,512.4 L800.5,491.9 L809.5,513.9 L818.5,570.3 L827.5,584.3 L836.5,493.2 L845.5,521.4 L854.5,512.6 L863.5,543.8 L872.6,542.8 L881.6,472.0 L890.6,426.8 L899.6,534.4 L908.6,544.8 L917.6,526.1 L926.6,539.1 L935.6,526.4 L944.6,520.6 L953.6,341.2 L962.7,502.9 L971.7,487.4 L980.7,508.9 L989.7,527.4 L998.7,511.9 L1007.7,533.4 L1016.7,542.3 L1025.7,514.9 L1034.7,484.2 L1043.8,400.8 L1052.8,574.0 L1061.8,523.1 L1070.8,536.9 L1079.8,509.4 L1088.8,474.9 L1097.8,512.4 L1106.8,473.0" fill="none" stroke="#5B9E4D" stroke-width="3.2" stroke-linejoin="round"/>
<circle cx="728.4" cy="565.1" r="2.7" fill="#5B9E4D"/>
<circle cx="737.4" cy="451.5" r="2.7" fill="#5B9E4D"/>
<circle cx="746.4" cy="540.1" r="2.7" fill="#5B9E4D"/>
<circle cx="755.4" cy="530.4" r="2.7" fill="#5B9E4D"/>
<circle cx="764.4" cy="535.6" r="2.7" fill="#5B9E4D"/>
<circle cx="773.4" cy="530.1" r="2.7" fill="#5B9E4D"/>
<circle cx="782.5" cy="514.4" r="2.7" fill="#5B9E4D"/>
<circle cx="791.5" cy="512.4" r="2.7" fill="#5B9E4D"/>
<circle cx="800.5" cy="491.9" r="2.7" fill="#5B9E4D"/>
<circle cx="809.5" cy="513.9" r="2.7" fill="#5B9E4D"/>
<circle cx="818.5" cy="570.3" r="2.7" fill="#5B9E4D"/>
<circle cx="827.5" cy="584.3" r="2.7" fill="#5B9E4D"/>
<circle cx="836.5" cy="493.2" r="2.7" fill="#5B9E4D"/>
<circle cx="845.5" cy="521.4" r="2.7" fill="#5B9E4D"/>
<circle cx="854.5" cy="512.6" r="2.7" fill="#5B9E4D"/>
<circle cx="863.5" cy="543.8" r="2.7" fill="#5B9E4D"/>
<circle cx="872.6" cy="542.8" r="2.7" fill="#5B9E4D"/>
<circle cx="881.6" cy="472.0" r="2.7" fill="#5B9E4D"/>
<circle cx="890.6" cy="426.8" r="2.7" fill="#5B9E4D"/>
<circle cx="899.6" cy="534.4" r="2.7" fill="#5B9E4D"/>
<circle cx="908.6" cy="544.8" r="2.7" fill="#5B9E4D"/>
<circle cx="917.6" cy="526.1" r="2.7" fill="#5B9E4D"/>
<circle cx="926.6" cy="539.1" r="2.7" fill="#5B9E4D"/>
<circle cx="935.6" cy="526.4" r="2.7" fill="#5B9E4D"/>
<circle cx="944.6" cy="520.6" r="2.7" fill="#5B9E4D"/>
<circle cx="953.6" cy="341.2" r="2.7" fill="#5B9E4D"/>
<circle cx="962.7" cy="502.9" r="2.7" fill="#5B9E4D"/>
<circle cx="971.7" cy="487.4" r="2.7" fill="#5B9E4D"/>
<circle cx="980.7" cy="508.9" r="2.7" fill="#5B9E4D"/>
<circle cx="989.7" cy="527.4" r="2.7" fill="#5B9E4D"/>
<circle cx="998.7" cy="511.9" r="2.7" fill="#5B9E4D"/>
<circle cx="1007.7" cy="533.4" r="2.7" fill="#5B9E4D"/>
<circle cx="1016.7" cy="542.3" r="2.7" fill="#5B9E4D"/>
<circle cx="1025.7" cy="514.9" r="2.7" fill="#5B9E4D"/>
<circle cx="1034.7" cy="484.2" r="2.7" fill="#5B9E4D"/>
<circle cx="1043.8" cy="400.8" r="2.7" fill="#5B9E4D"/>
<circle cx="1052.8" cy="574.0" r="2.7" fill="#5B9E4D"/>
<circle cx="1061.8" cy="523.1" r="2.7" fill="#5B9E4D"/>
<circle cx="1070.8" cy="536.9" r="2.7" fill="#5B9E4D"/>
<circle cx="1079.8" cy="509.4" r="2.7" fill="#5B9E4D"/>
<circle cx="1088.8" cy="474.9" r="2.7" fill="#5B9E4D"/>
<circle cx="1097.8" cy="512.4" r="2.7" fill="#5B9E4D"/>
<circle cx="1106.8" cy="473.0" r="2.7" fill="#5B9E4D"/>
</g>
<circle cx="1127.5" cy="342.4" r="5.3" fill="#3349C6"/>
<text x="1139.2" y="346.3" font-size="11" fill="#343741" textLength="108.1" lengthAdjust="spacing">Moving Avg of Sum ...</text>
<circle cx="1127.5" cy="363.7" r="5.3" fill="#5B9E4D"/>
<text x="1139.2" y="367.6" font-size="11" fill="#343741" textLength="102.3" lengthAdjust="spacing">Total Order Revenue</text>
<text x="12" y="16.6" font-size="10.6" font-weight="bold" fill="#1a1c21" textLength="111.1" lengthAdjust="spacingAndGlyphs">Top Order Categories</text>
<text x="852.6" y="16.6" font-size="10.6" font-weight="bold" fill="#1a1c21" textLength="89.2" lengthAdjust="spacingAndGlyphs">Order Categories</text>
<text x="11.6" y="317.7" font-size="10.6" font-weight="bold" fill="#1a1c21" textLength="129.5" lengthAdjust="spacingAndGlyphs">High Revenue Order Goal</text>
<text x="643.6" y="317.6" font-size="10.6" font-weight="bold" fill="#1a1c21" textLength="104.9" lengthAdjust="spacingAndGlyphs">Total Revenue Trend</text>
</svg>
</body></html>
